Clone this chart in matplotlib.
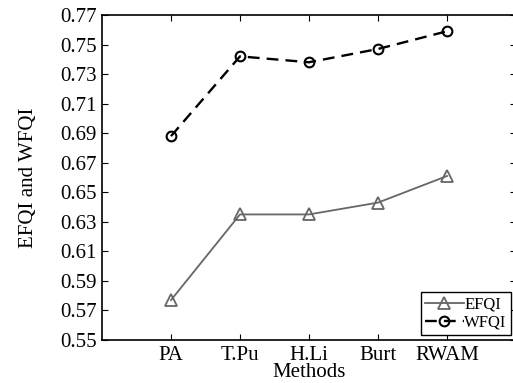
import numpy as np
import matplotlib.pyplot as plt

plt.rcParams['font.family'] = 'Liberation Serif'

methods = ['PA', 'T.Pu', 'H.Li', 'Burt', 'RWAM']
efqi = [0.577, 0.635, 0.635, 0.643, 0.661]
wfqi = [0.688, 0.742, 0.738, 0.747, 0.759]
yticks = [0.55, 0.57, 0.59, 0.61, 0.63, 0.65, 0.67, 0.69, 0.71, 0.73, 0.75, 0.77]

fig = plt.figure(figsize=(5.13, 3.83), dpi=100)
ax = fig.add_axes([102 / 513, 1 - 340 / 383, (516 - 102) / 513, (340 - 15) / 383])

x = np.arange(1, len(methods) + 1)
ax.plot(x, efqi, color='#666666', lw=1.3, marker='^', ms=8, mfc='none',
        mec='#666666', mew=1.3, label='EFQI')
ax.plot(x, wfqi, color='black', lw=1.7, ls=(0, (5, 3)), marker='o', ms=7,
        mfc='none', mec='black', mew=1.5, label='WFQI')

ax.set_xlim(0, 6)
ax.set_ylim(0.55, 0.77)
ax.set_xticks(x)
ax.set_xticklabels(methods)
ax.set_yticks(yticks)
ax.set_yticklabels(['%.2f' % v for v in yticks])
ax.tick_params(direction='in', top=True, right=True, labelsize=15, length=4)
ax.tick_params(axis='x', pad=4)
ax.tick_params(axis='y', pad=4)
for s in ax.spines.values():
    s.set_linewidth(1.2)

ax.set_xlabel('Methods', fontsize=15, labelpad=-1)
ax.set_ylabel('EFQI and WFQI', fontsize=15, labelpad=16)

leg = ax.legend(loc='lower right', bbox_to_anchor=(1.0, 0.0), fontsize=12,
                handlelength=2.3, handletextpad=0.05, borderpad=0.25,
                labelspacing=0.15, borderaxespad=0.3, fancybox=False,
                edgecolor='black', framealpha=1)
leg.get_frame().set_linewidth(1.0)

fig.savefig('out.png', dpi=100)
